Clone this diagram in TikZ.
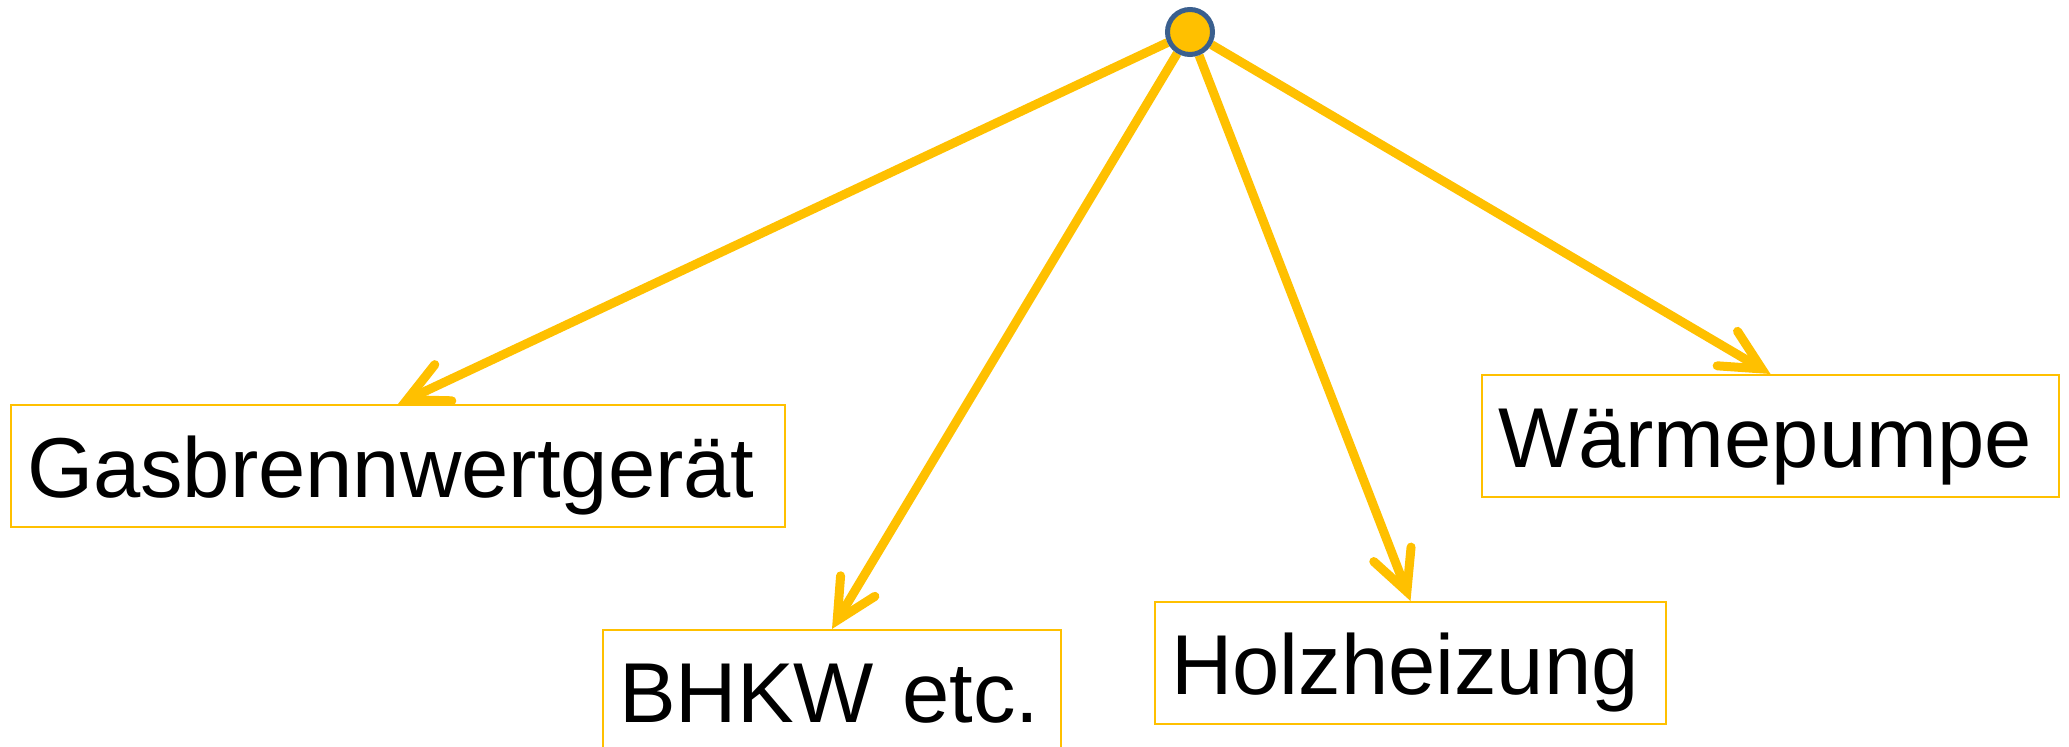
\documentclass[tikz,border=0pt]{standalone}
\usepackage{fontspec}
\setmainfont{Liberation Sans}
\usetikzlibrary{arrows.meta}
\definecolor{gold}{RGB}{255,192,0}
\definecolor{ringblue}{RGB}{58,95,142}
\pgfdeclarelayer{bg}
\pgfsetlayers{bg,main}
\begin{document}
\begin{tikzpicture}[x=0.5pt,y=-0.5pt,
  box/.style={draw=gold, line width=1pt, anchor=north west, inner xsep=8pt, inner ysep=0pt,
    minimum height=61pt, text height=31.5pt, text depth=0pt, align=left,
    font=\fontsize{42.5}{50}\selectfont},
  conn/.style={draw=gold, line width=4.5pt,
    -{Straight Barb[length=20pt,width=20pt,line cap=round,line join=miter]}},
  hub/.style={circle, fill=gold, draw=ringblue, line width=2.5pt, minimum size=22.5pt, inner sep=0pt}]
\clip (0,0) rectangle (2069,747);
\node[box, minimum width=387pt, text width=371pt] (gas) at (10,404) {Gasbrennwertgerät};
\node[box, minimum width=229pt, text width=213pt] (bhkw) at (602,629) {BHKW etc.};
\node[box, minimum width=255.5pt, text width=239.5pt] (holz) at (1154,601) {Holzheizung};
\node[box, minimum width=288.5pt, text width=272.5pt] (wp) at (1481,374) {Wärmepumpe};
\node[hub] (c) at (1190,32) {};
\begin{pgfonlayer}{bg}
\draw[conn] (c) -- (gas.north);
\draw[conn] (c) -- (bhkw.north);
\draw[conn] (c) -- (holz.north);
\draw[conn] (c) -- (wp.north);
\end{pgfonlayer}
\end{tikzpicture}
\end{document}
